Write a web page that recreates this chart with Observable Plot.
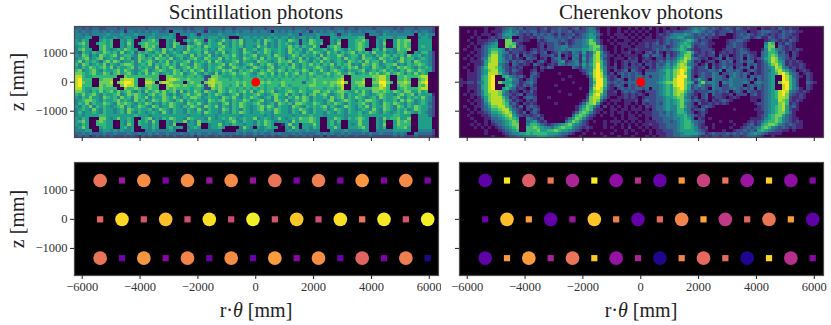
<!DOCTYPE html>
<html>
<head>
<meta charset="utf-8">
<script src="https://cdn.jsdelivr.net/npm/d3@7"></script>
<script src="https://cdn.jsdelivr.net/npm/@observablehq/plot@0.6"></script>
<style>
html,body{margin:0;padding:0;background:#fff}
#chart{position:relative;width:831px;height:325px;overflow:hidden;font-family:"Liberation Serif",serif;color:#222}
#chart>div{position:absolute}
#chart svg{display:block}
.lab{position:absolute;white-space:nowrap;font-size:20px;line-height:1.1}
.ttl{font-size:21px}
</style>
</head>
<body>
<div id="chart"></div>
<script>
const panelTitles = ["Scintillation photons", "Cherenkov photons"];
const xTicks = [-6000, -4000, -2000, 0, 2000, 4000, 6000];
const zTicks = [-1000, 0, 1000];
const rPositions = [-5380,-4625,-3870,-3115,-2360,-1605,-850,-95,660,1415,2170,2925,3680,4435,5190,5945];
const zRowTop = 1335, zRowMid = 0, zRowBottom = -1335;

const scintTop = [.65,.33,.73,.25,.73,.32,.72,.32,.65,.25,.68,.25,.76,.25,.72,.25];
const scintMid = [.60,.92,.55,.86,.52,.94,.50,.98,.55,.88,.52,.94,.66,.96,.55,.98];
const scintBot = [.65,.22,.75,.28,.70,.20,.73,.20,.77,.28,.73,.20,.60,.25,.68,.03];
const cherTop  = [.17,.96,.58,.66,.38,.97,.30,.42,.20,.76,.48,.65,.33,.90,.30,.28];
const cherMid  = [.20,.86,.77,.18,.33,.88,.68,.18,.62,.70,.80,.45,.60,.66,.77,.17];
const cherBot  = [.17,.76,.77,.37,.65,.88,.32,.38,.03,.70,.62,.62,.03,.92,.42,.28];

const scintRows = [
"3323233223 3323233333 2333323333 3232333233 3323323333 2333233333 3323332333 3332333233 2333323333 3232333233 3320",
"4343344343 4334144343 4344334044 4343343143 3434434344 3434430434 3434434143 4344344343 3434443344 3433443434 4320",
"4434344445 4445444544 4454444540 4445414444 4544445444 4444445444 4544144445 4445414454 4440444354 4444444054 5440",
"4445500454 4544554400 4554455540 0045545455 5454000455 4545454545 5454554545 0005545555 5660004555 5455500045 5400",
"5465000565 6005465005 5675005460 0465765165 4575465745 5464765465 4765154765 5005460055 6675005460 0576770055 5500",
"5675005665 6005475056 7666005476 0054675465 5745465745 5564745465 6545155765 6005470055 6765005470 0576760055 5500",
"4565000675 6005465006 7675005475 5476564765 5675465645 5475645465 5756465575 0056760055 6765005460 0576760056 5500",
"4675500675 4565765500 6765475645 5475665645 4765565475 5645765565 4765645755 5645765465 6760056475 5476670055 5500",
"4365465576 5647456365 6546574565 4765564754 6574565476 5465764565 4756546576 5475646567 4656475564 5466500546 6420",
"5476354765 6745665476 3565746456 6547465574 5466575465 6745564765 4576465564 7465576456 6475546576 4656475564 5420",
"4567456745 6547563476 5647665745 6456754765 5746565476 5647465576 3565746456 4765564756 5476654765 6547566456 5420",
"5746565367 5764556475 6754657465 5674656574 7645567465 5476654576 6745765465 7564565476 5647566475 5467564765 5420",
"6476456574 6546776456 5746567564 7654765465 5674765456 7546576465 6475465756 4657465674 5476576456 6745465676 5420",
"5465765675 7465567465 6547465764 5675765465 6754576564 5765467456 5675465567 6546546576 7465476546 5476765465 6520",
"6745675465 5675765456 7456765576 4657567465 6576754656 7546576576 4656576465 7546765465 5674565675 6546576576 5520",
"7765675576 4675675465 7576456576 7456754654 7465675676 5467657465 7567465765 5675675576 4565767567 5676465756 5000",
"8865566666 6600766666 6666007766 6566565227 7655565566 5565656565 6565665656 6565667006 6666677886 0066766678 8000",
"8966600677 7007888600 7766007887 6676666278 7666566566 6566565656 6656665676 6666678006 6670067886 0066760067 8000",
"8976600777 8078998600 8870788766 6067661788 7766667676 6767676667 6666636676 6767789706 7780077997 6077870078 9000",
"8966600767 7007988600 7766007877 6766676278 6766567576 6676566657 6566666776 6667678006 6770066896 0067760076 8000",
"8865566766 6600766765 6766007676 6665665227 6765665656 5656566565 6655665666 6566568006 5666677876 0056766678 8000",
"7765465756 7575675464 7567575674 7465764765 4765765675 7467567455 6765765577 5675677655 7575477676 5765775575 6000",
"6575675465 5674576765 4675675464 5675675465 7654567465 5675456765 7465464675 6754567465 5675456765 5467567465 5510",
"5465755476 5647564765 7465576575 4657764565 5476575465 7654564755 4657576465 5647567465 7654564765 5675465657 5420",
"4567765465 5675654756 4576576546 7465655476 5675465576 4567454765 7456576465 5467456765 4657765465 5647576456 5420",
"4657465576 5476765465 7645465765 5476575465 5467465765 5675456476 5647765576 5465765465 5675465476 5765465456 5320",
"5465746565 4567464576 5476455765 4657654765 7465465765 4567576465 5476546565 6746545765 4657465576 5476465765 5420",
"4565475465 5456476565 5645765465 5465475465 5476465465 4567465765 5465765465 5645765465 4565475476 5465645765 5320",
"4645565465 5456475465 4565475465 5465564765 5465465765 4556554765 5465475465 5465465465 5645765465 4565765465 4320",
"4545555665 5555555655 5455555555 5545554555 4555555455 5555454555 5545555655 5455555455 5655555555 5665550055 5320",
"5465000775 4575565005 6745465765 5476555475 4565764565 5745654575 4565766765 0055765465 6765005475 6675570055 5500",
"5675006765 5005465065 6475005465 5745475565 5545675465 5465765455 5475666765 0056460055 5755005460 0576760055 5500",
"5465006665 5005475065 5465005470 0055470045 5745465545 5465765001 5745055575 0056450054 5755005470 0576660055 5500",
"4575000565 5005645005 5465005645 5045650045 5650000475 4054565500 5475055465 0055750055 5675005460 0566750055 5500",
"4445500455 4545445000 4454444540 0054444444 4400004454 4544544000 4545445444 0005444544 4455004444 4555550044 4420",
"3343433343 3433343343 3434334333 4334343343 3433334343 3434334343 3343433334 3434334343 3343433433 3434300433 3320",
"2323123232 3222323213 2322323232 2323132322 3232322232 2322323223 3223232322 3132232322 3222322222 2323222322 2210"
];

const cherRows = [
"0000000100 1123432312 2212312232 2123123431 0010010010 1010201010 1101123434 3232123213 2121102112 1321211000 0000",
"0010100101 1134534232 3312213232 2312223442 0010010101 0101001012 1222334543 2321222312 2201123332 2132321100 0000",
"0000101110 1245543212 1323232131 2231234543 1010111010 1010101212 3444543232 3231220012 3232123212 1232211000 0000",
"0001010012 1244500211 2132333232 2312234552 0001011101 0101101123 4455333223 1211000012 2331231132 1232121000 0000",
"0010011122 3007712211 0021233323 2123345753 1010100110 1011112123 2334565312 2100001223 3210000123 2121321000 0000",
"0001011234 5007762100 0012122321 3123345773 1001011101 0112123123 2345653223 2110001232 2100000476 0213210000 0000",
"0010102345 5007671210 0012022334 4233344677 3100101110 1112122231 2346563122 2100002232 2100000577 0321210000 0000",
"0100112356 6541322210 1212122334 3444455676 3100101011 2111123232 3456532112 2210012212 3210001476 4321212100 0000",
"0001012357 7543122121 2312301242 2143252368 5210101120 1102313102 1235675212 1230121212 3321103466 5231021000 0000",
"0010112368 8532313032 2102223140 2134142378 4311010111 1023133203 1245773122 1220312012 3132103467 6332021000 0000",
"0101013478 8542312103 2201202341 2043152478 5210111021 2012102213 2356874321 2012303212 3032123568 7432120000 0000",
"0001112578 8543132321 2023102245 1234142478 6310101212 2021212324 3467853120 1220232302 3233012468 7541212100 0000",
"0010112588 8432032121 0321012143 2334253579 6310201202 1202213235 3578743201 3021232212 2032312357 8641211210 0000",
"0100124688 7532121200 0102132000 0032143479 6411201212 2120213345 4678863122 4031242302 3230312345 8743121210 0000",
"0010124578 8542132100 1201000000 0000123489 7410212303 2102223456 5789852122 2332403323 2023212335 7865320121 0000",
"0011124588 8643121100 2310000010 0000013589 8412023232 3203333446 5789752123 2243022343 2320212345 6897432012 1000",
"0011125689 0056432310 3210000000 0100001489 8521203232 3323133456 5799952023 2243320343 2303232345 0098632102 1000",
"1011125689 0005643102 3200000001 0000000379 9621232032 3033333456 5899752353 2043322433 3323032345 0098642002 1000",
"1122134689 0755533123 4200000000 0010000369 9632323233 3333334567 7899765147 3443043433 3430343345 0799642003 2100",
"1011125689 0005642132 3100000100 0000000379 9621232032 3133333456 5899752353 2243022433 3023232345 0089642002 1000",
"0011125689 0056431210 2200000000 0000100489 8521023232 3323033456 5789752323 2043322343 2323032345 0089643102 1000",
"0010124688 8753121021 3100000010 0000000578 8411202323 2102223456 5788643122 2332323023 2032212345 6898432121 0000",
"0101124678 8743212302 2100000000 0100001689 6411101212 1210223456 5787532102 3032211202 2202312345 6897321210 0000",
"0001013578 8864121023 3200010000 0000002788 5310011212 1012223345 5677431202 3012210121 0001112345 6887211210 0000",
"0010112578 8875312102 1200000000 0000013787 3101110111 2023223345 4567542321 2021232100 0001102345 5876212100 0000",
"0001012468 8876231021 2100000100 0000136785 1010100110 1021223245 4567432031 1212121000 0000122345 5786121000 0000",
"0100112357 7886421302 3210000000 0001357642 0201010101 0102123345 4467532102 3210000000 0000012345 6785231000 0000",
"0010102346 6788532102 1320000000 0001467621 1001101101 1101023345 4466431223 1000000010 0000112345 6785211000 0000",
"0001011235 5678742130 2310000000 0013676421 0101011010 1011122324 3466532012 1000000000 0000011345 6775310000 0000",
"0010001124 4567853212 1231000000 0036764210 1001001011 0101122334 3455643212 0000000000 0000012356 7753210000 0000",
"0001000113 3456765004 3212000000 1357642100 0000101011 1001022233 3445653021 0100000000 0001112456 7643211000 0000",
"0000100102 3345676003 4521200000 3576421010 0101110101 0101112233 2345664322 0000100100 0012123566 7643212100 0000",
"0001010101 2345677004 6653212345 6754321000 0100101010 1011211223 3345665321 0010000010 0123125677 6432321100 0000",
"0000101010 1234567006 6765443567 6643212100 0101001020 0101011223 3345665421 2010000100 1232346764 3232121100 0000",
"0000000100 0123456006 6675566765 5432101000 0000100101 0010101122 2345555432 1000010012 2323256543 2211010000 0000",
"0000000100 0012344556 5666655543 3210010010 1001000100 1000101112 2334555543 1232223232 3234543211 1100000000 0000",
"0000000001 0001223344 4455544332 1000100000 0100010001 0001010112 2334443321 2122122122 1233321001 0000000000 0000"
];

const gridWidth = 104, gridHeight = scintRows.length;
const xDomain = [-6267, 6319];
const zDomainTop = [-1907, 1920];
const zDomainBottom = [-1931, 1955];

const fmt = d => String(d).replace("-", "\u2212");
const font = "'Liberation Serif', serif";

function flatten(rows) {
  return rows.flatMap(r => Array.from(r.replace(/ /g, "").padEnd(gridWidth, "0").slice(0, gridWidth), Number));
}

function axes(showX, showY) {
  return [
    Plot.frame({stroke: "#4a4a4a", strokeWidth: 1.2}),
    Plot.axisX({ticks: xTicks, tickSize: 4, tickPadding: 3, stroke: "#222", label: null, fontSize: 12.5, fill: "#333",
      tickFormat: showX ? fmt : () => ""}),
    Plot.axisY({ticks: zTicks, tickSize: 4, tickPadding: 3, stroke: "#222", label: null, fontSize: 12.5, fill: "#333",
      tickFormat: showY ? fmt : () => ""})
  ];
}

function heatPanel(rows, left, showY) {
  return Plot.plot({
    width: left.width, height: 155,
    marginLeft: left.margin, marginRight: left.width - left.margin - 364,
    marginTop: 26, marginBottom: 18,
    style: {fontFamily: font, background: "transparent"},
    x: {domain: xDomain, axis: null},
    y: {domain: zDomainTop, axis: null},
    color: {type: "linear", scheme: "viridis", domain: [0, 9]},
    marks: [
      Plot.raster(flatten(rows), {
        width: gridWidth, height: gridHeight,
        x1: xDomain[0], x2: xDomain[1], y1: zDomainTop[1], y2: zDomainTop[0],
        imageRendering: "pixelated"
      }),
      Plot.dot([{r: 0, z: 0}], {x: "r", y: "z", r: 4.4, fill: "red"}),
      ...axes(false, showY)
    ]
  });
}

function dotPanel(top, mid, bot, left, showY) {
  const pts = [];
  rPositions.forEach((r, i) => {
    pts.push({r, z: zRowTop, v: top[i], circle: i % 2 === 0});
    pts.push({r, z: zRowMid, v: mid[i], circle: i % 2 === 1});
    pts.push({r, z: zRowBottom, v: bot[i], circle: i % 2 === 0});
  });
  return Plot.plot({
    width: left.width, height: 145,
    marginLeft: left.margin, marginRight: left.width - left.margin - 364,
    marginTop: 7, marginBottom: 25,
    style: {fontFamily: font, background: "transparent"},
    x: {domain: xDomain, axis: null},
    y: {domain: zDomainBottom, axis: null},
    color: {type: "linear", scheme: "plasma", domain: [0, 1]},
    marks: [
      Plot.frame({fill: "black"}),
      Plot.dot(pts.filter(d => d.circle), {x: "r", y: "z", r: 6.8, fill: "v", symbol: "circle"}),
      Plot.dot(pts.filter(d => !d.circle), {x: "r", y: "z", r: 3.5, fill: "v", symbol: "square"}),
      ...axes(true, showY)
    ]
  });
}

const root = document.getElementById("chart");
function place(node, x, y) {
  const d = document.createElement("div");
  d.style.left = x + "px"; d.style.top = y + "px";
  d.appendChild(node); root.appendChild(d);
}
const leftPanel = {width: 441, margin: 74};
const rightPanel = {width: 384, margin: 13};
place(heatPanel(scintRows, leftPanel, true), 0, 0);
place(heatPanel(cherRows, rightPanel, false), 446, 0);
place(dotPanel(scintTop, scintMid, scintBot, leftPanel, true), 0, 155);
place(dotPanel(cherTop, cherMid, cherBot, rightPanel, false), 446, 155);

function label(html, cx, cy, rot, cls) {
  const s = document.createElement("span");
  s.className = "lab" + (cls ? " " + cls : "");
  s.innerHTML = html;
  s.style.left = cx + "px"; s.style.top = cy + "px";
  s.style.transform = "translate(-50%,-50%)" + (rot ? " rotate(-90deg)" : "");
  root.appendChild(s);
}
label(panelTitles[0], 256, 13, false, "ttl");
label(panelTitles[1], 641, 13, false, "ttl");
label("z [mm]", 17, 82, true);
label("z [mm]", 17, 219, true);
const rtheta = "r\u00b7<i>\u03b8</i> [mm]";
label(rtheta, 256, 310);
label(rtheta, 641, 310);
</script>
</body>
</html>
